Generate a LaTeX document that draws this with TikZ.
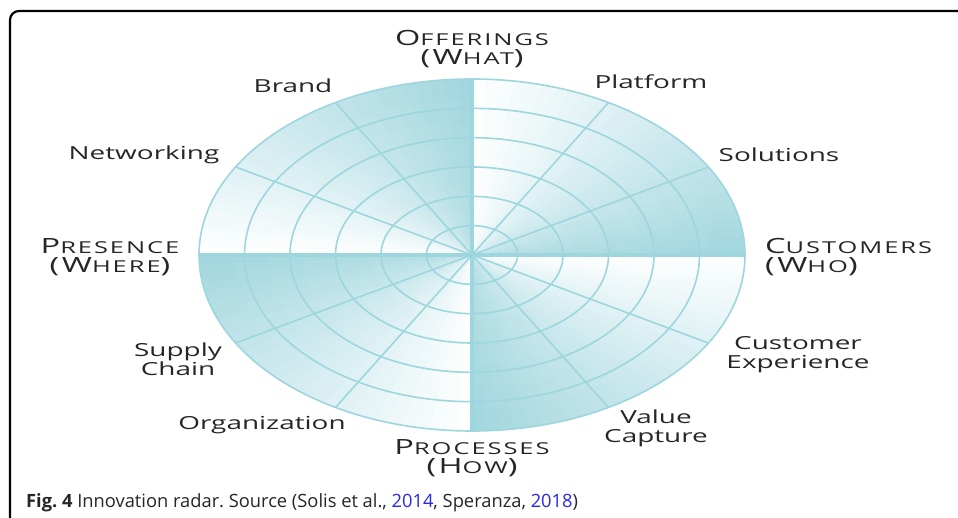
\documentclass[tikz,border=0pt]{standalone}
\usepackage{fontspec}
\setmainfont{Open Sans}
\newfontfamily\lblfont[FakeStretch=1.55]{Open Sans}
\newfontfamily\ttlfont[FakeStretch=1.55,LetterSpace=12]{Open Sans}
\definecolor{tealc}{RGB}{160,214,222}
\definecolor{linec}{RGB}{158,214,222}
\definecolor{txt}{RGB}{38,38,38}
\definecolor{capblue}{RGB}{40,40,235}
\newcommand\bigc[1]{{\fontsize{21}{19}\selectfont #1}}
\newcommand\smc[1]{{\fontsize{16.4}{19}\selectfont #1}}
\tikzset{
  lbl/.style={font=\lblfont\fontsize{18}{19}\selectfont, text=txt, align=center, inner sep=0pt},
  ttl/.style={font=\ttlfont\fontsize{16.4}{19}\selectfont, text=txt, align=center, inner sep=0pt},
  ring/.style={draw=linec, line width=1.6pt},
  spoke/.style={draw=linec, line width=1.6pt},
  axis/.style={draw=linec, line width=4pt}
}
\frenchspacing
\begin{document}
\begin{tikzpicture}[x=1pt,y=1pt]
\useasboundingbox (0,0) rectangle (958,517);
\fill[white] (0,0) rectangle (958,517);
\begin{scope}
\clip (0,0) rectangle (958,517);
\draw[line width=2.2pt, rounded corners=9pt] (10,-30) -- (10,506) -- (990,506);
\end{scope}
\begin{scope}[shift={(472,262)}]
\foreach \s in {0,90,180,270}{
  \foreach \k in {0,...,29}{
    \foreach \j in {0,...,7}{
      \pgfmathsetmacro\a{\s+3*\k}
      \pgfmathsetmacro\b{min(\a+3.8,\s+90)}
      \pgfmathsetmacro\ra{max(\j/8,0.003)}
      \pgfmathsetmacro\rb{min((\j+1.15)/8,1)}
      \pgfmathsetmacro\rxa{273*\ra}
      \pgfmathsetmacro\rya{176*\ra}
      \pgfmathsetmacro\rxb{273*\rb}
      \pgfmathsetmacro\ryb{176*\rb}
      \pgfmathsetmacro\f{(\k+0.5)/30}
      \pgfmathsetmacro\p{100*(1-\f)*(0.78+0.22*(\j+0.5)/8)}
      \fill[tealc!\p!white] (\a:\rxa pt and \rya pt) arc[start angle=\a, end angle=\b, x radius=\rxa pt, y radius=\rya pt]
        -- (\b:\rxb pt and \ryb pt) arc[start angle=\b, end angle=\a, x radius=\rxb pt, y radius=\ryb pt] -- cycle;
    }
  }
}
\foreach \r in {1,...,6}{
  \draw[ring] (0,0) ellipse[x radius=273*\r/6, y radius=176*\r/6];
}
\foreach \a in {30,60,120,150,210,240,300,330}{
  \draw[spoke] (0,0) -- (\a:273 and 176);
}
\foreach \a in {0,90,180,270}{
  \draw[axis] (0,0) -- (\a:273 and 176);
}
\end{scope}
\node[ttl] (offer) at (472,467.5) {\bigc{O}\smc{FFERINGS}\\\bigc{(W}\smc{HAT}\bigc{)}};
\node[ttl, anchor=west, align=left] (cust) at (765,260) {\bigc{C}\smc{USTOMERS}\\\bigc{(W}\smc{HO}\bigc{)}};
\node[ttl] (pres) at (110,260) {\bigc{P}\smc{RESENCE}\\\bigc{(W}\smc{HERE}\bigc{)}};
\node[ttl] (proc) at (472,58.5) {\bigc{P}\smc{ROCESSES}\\\bigc{(H}\smc{OW}\bigc{)}};
\node[lbl] (brand) at (293,431) {Brand};
\node[lbl] (net) at (144,362) {Networking};
\node[lbl] (plat) at (651,435) {Platform};
\node[lbl] (sol) at (779,362) {Solutions};
\node[lbl] (supply) at (178,157.5) {Supply\\Chain};
\node[lbl] (org) at (262,92) {Organization};
\node[lbl] (cx) at (798,162.5) {Customer\\Experience};
\node[lbl] (vc) at (656,88.5) {Value\\Capture};
\node[anchor=base west, inner sep=0pt, text=txt, font=\fontsize{18.3}{19}\selectfont] (cap) at (26,10)
  {\textbf{Fig. 4} Innovation radar. Source (Solis et al., \textcolor{capblue}{2014}, Speranza, \textcolor{capblue}{2018})};
\end{tikzpicture}
\end{document}
